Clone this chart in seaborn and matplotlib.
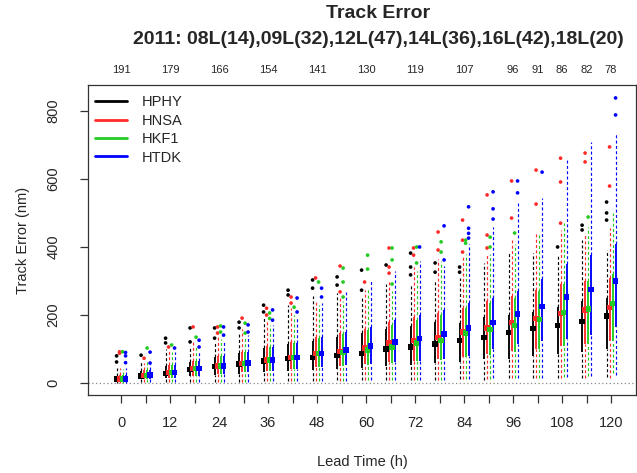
import matplotlib
matplotlib.use("Agg")
import matplotlib.pyplot as plt
from matplotlib.lines import Line2D
import pandas as pd
import seaborn as sns

# Forecast lead times (h) and the models compared
LEAD_TIMES = [0, 6, 12, 18, 24, 30, 36, 42, 48, 54, 60, 66, 72, 78, 84, 90, 96, 102, 108, 114, 120]
MODELS = ["HPHY", "HNSA", "HKF1", "HTDK"]
COLORS = ["#000000", "#ff2a2a", "#22cc22", "#0000ff"]

# Number of verifying cases shown along the top
CASE_LEADS = [0, 12, 24, 36, 48, 60, 72, 84, 96, 102, 108, 114, 120]
CASE_COUNTS = [191, 179, 166, 154, 141, 130, 119, 107, 96, 91, 86, 82, 78]

# Box statistics per model (nm): whisker low, Q1, median, Q3, whisker high, outliers
HPHY_LO = [1, 2, 2, 3, 4, 4, 5, 6, 7, 8, 8, 9, 10, 10, 11, 10, 15, 14, 15, 16, 18]
HPHY_Q1 = [6, 12, 16, 20, 25, 28, 32, 36, 38, 42, 45, 50, 52, 58, 62, 70, 72, 80, 85, 90, 100]
HPHY_MED = [12, 21, 28, 40, 48, 56, 65, 72, 76, 82, 88, 100, 106, 115, 124, 135, 148, 160, 170, 180, 197]
HPHY_Q3 = [22, 36, 50, 62, 76, 88, 102, 115, 125, 135, 148, 160, 168, 180, 178, 194, 200, 210, 225, 240, 250]
HPHY_HI = [45, 65, 100, 110, 125, 150, 190, 230, 255, 265, 255, 290, 290, 300, 310, 353, 382, 382, 375, 420, 391]
HPHY_OUT = [[62, 80], [82], [118, 132], [121, 162], [132, 162], [162, 179], [209, 229], [259, 273],
            [279, 303], [288, 312], [273, 332], [347], [318, 341, 382], [326, 353], [326, 341],
            [], [], [], [400], [450, 464], [479, 500, 532]]

HNSA_LO = [1, 2, 2, 3, 4, 4, 5, 6, 7, 7, 8, 9, 10, 10, 12, 12, 14, 15, 15, 16, 15]
HNSA_Q1 = [6, 12, 16, 22, 28, 32, 36, 40, 46, 50, 56, 62, 66, 72, 78, 86, 95, 100, 108, 115, 125]
HNSA_MED = [12, 23, 30, 42, 50, 58, 68, 76, 86, 94, 103, 118, 126, 135, 150, 162, 178, 190, 205, 215, 223]
HNSA_Q3 = [24, 38, 52, 66, 80, 92, 108, 120, 135, 148, 160, 180, 195, 205, 220, 240, 255, 275, 290, 300, 310]
HNSA_HI = [45, 60, 95, 120, 135, 160, 185, 220, 240, 250, 275, 300, 340, 365, 370, 380, 420, 440, 450, 440, 455]
HNSA_OUT = [[88, 92], [73], [106], [165], [147, 165], [191], [200, 220], [235, 253],
            [309], [268, 344], [297], [323, 341, 397], [376, 397], [391, 444], [385, 420, 479],
            [397, 435, 553], [485, 594], [526, 626], [470, 591, 661], [650, 676], [579, 694]]

HKF1_LO = [1, 2, 2, 3, 4, 4, 5, 6, 7, 7, 8, 9, 10, 10, 12, 12, 14, 16, 18, 20, 29]
HKF1_Q1 = [6, 12, 16, 22, 28, 32, 36, 40, 46, 50, 54, 58, 64, 68, 76, 84, 92, 100, 110, 115, 125]
HKF1_MED = [12, 23, 30, 42, 50, 58, 68, 76, 86, 91, 97, 106, 118, 126, 147, 157, 170, 188, 208, 218, 235]
HKF1_Q3 = [24, 38, 52, 66, 80, 92, 106, 118, 132, 145, 155, 170, 185, 200, 220, 235, 250, 270, 290, 300, 320]
HKF1_HI = [42, 62, 92, 110, 130, 135, 170, 200, 230, 240, 280, 270, 330, 360, 380, 380, 410, 440, 470, 460, 500]
HKF1_OUT = [[92], [103], [112], [135], [150, 168], [147, 176], [190, 206], [223],
            [297], [253, 297, 338], [335, 376], [291, 362, 397], [353, 400], [385, 415], [411, 420],
            [400, 429], [441], [], [], [488], []]

HTDK_LO = [1, 2, 2, 3, 4, 4, 5, 6, 7, 7, 8, 9, 10, 10, 12, 14, 15, 16, 18, 20, 24]
HTDK_Q1 = [6, 12, 16, 22, 28, 32, 36, 40, 46, 52, 56, 62, 66, 72, 80, 100, 115, 125, 130, 140, 165]
HTDK_MED = [12, 24, 30, 42, 50, 59, 68, 76, 88, 97, 109, 121, 132, 144, 162, 179, 203, 226, 253, 276, 300]
HTDK_Q3 = [24, 38, 52, 66, 80, 92, 106, 118, 135, 150, 165, 185, 200, 215, 235, 250, 270, 305, 350, 375, 410]
HTDK_HI = [45, 55, 90, 95, 125, 140, 170, 195, 235, 268, 300, 330, 360, 345, 410, 460, 530, 544, 655, 709, 735]
HTDK_OUT = [[60, 80, 90], [59, 91], [103], [106, 126], [141, 165], [150, 171], [185, 215], [209, 250],
            [253, 279], [], [], [], [400], [362, 462], [426, 440, 455, 518],
            [482, 512, 562], [559, 594], [620], [], [], [788, 838]]

STATS = {
    "HPHY": (HPHY_LO, HPHY_Q1, HPHY_MED, HPHY_Q3, HPHY_HI, HPHY_OUT),
    "HNSA": (HNSA_LO, HNSA_Q1, HNSA_MED, HNSA_Q3, HNSA_HI, HNSA_OUT),
    "HKF1": (HKF1_LO, HKF1_Q1, HKF1_MED, HKF1_Q3, HKF1_HI, HKF1_OUT),
    "HTDK": (HTDK_LO, HTDK_Q1, HTDK_MED, HTDK_Q3, HTDK_HI, HTDK_OUT),
}
OFFSETS = [-1.1, -0.37, 0.37, 1.1]

# Long-form tables for the box summaries and the outlying cases
box_rows, out_rows = [], []
for model, off in zip(MODELS, OFFSETS):
    lo, q1, med, q3, hi, outs = STATS[model]
    for i, t in enumerate(LEAD_TIMES):
        box_rows.append(dict(model=model, pos=t + off, lo=lo[i], q1=q1[i],
                             med=med[i], q3=q3[i], hi=hi[i]))
        for v in outs[i]:
            out_rows.append(dict(model=model, pos=t + off, value=v))
boxes = pd.DataFrame(box_rows)
outliers = pd.DataFrame(out_rows)
palette = dict(zip(MODELS, COLORS))

sns.set_theme(style="ticks")
plt.rcParams["font.family"] = ["Liberation Sans", "DejaVu Sans"]

fig = plt.figure(figsize=(6.37, 4.73), dpi=100)
ax = fig.add_axes([88 / 637, 78 / 473, 548 / 637, 310 / 473])

ax.axhline(0, color="#888888", lw=0.9, ls=(0, (1, 2)), zorder=1)

for model in MODELS:
    d = boxes[boxes["model"] == model]
    c = palette[model]
    ax.vlines(d["pos"], d["lo"], d["q1"], color=c, lw=0.85, linestyles=(0, (2.5, 2)), zorder=2)
    ax.vlines(d["pos"], d["q3"], d["hi"], color=c, lw=0.85, linestyles=(0, (2.5, 2)), zorder=2)
    ax.vlines(d["pos"], d["q1"], d["q3"], color=c, lw=1.35, zorder=3)

sns.scatterplot(data=outliers, x="pos", y="value", hue="model", palette=palette,
                hue_order=MODELS, s=7, marker="o", linewidth=0, legend=False, ax=ax, zorder=4)
sns.scatterplot(data=boxes, x="pos", y="med", hue="model", palette=palette,
                hue_order=MODELS, s=14, marker="s", linewidth=0, legend=False, ax=ax, zorder=5)

ax.set_xlim(-8.1, 126.1)
ax.set_ylim(-35, 876)

ax.set_xticks(LEAD_TIMES)
ax.set_xticklabels([str(t) if t % 12 == 0 else "" for t in LEAD_TIMES], fontsize=10.5)
ax.set_yticks([0, 200, 400, 600, 800])
ax.set_yticklabels(["0", "200", "400", "600", "800"], rotation=90, va="center", fontsize=10.5)
ax.tick_params(axis="both", length=6, width=0.9, color="#333333", direction="out")
ax.tick_params(axis="x", pad=9)
ax.tick_params(axis="y", pad=14)
for sp in ax.spines.values():
    sp.set_visible(True)
    sp.set_color("#333333")
    sp.set_linewidth(0.9)

ax.set_xlabel("Lead Time (h)", fontsize=10.5, labelpad=18)
ax.set_ylabel("Track Error (nm)", fontsize=10.5, labelpad=12)

top = ax.secondary_xaxis("top")
top.set_xticks(CASE_LEADS)
top.set_xticklabels([str(c) for c in CASE_COUNTS], fontsize=8)
top.tick_params(length=0, pad=7)
top.spines["top"].set_visible(False)

handles = [Line2D([0], [0], color=c, lw=2) for c in COLORS]
ax.legend(handles, MODELS, loc="upper left", frameon=False, fontsize=10.5,
          handlelength=2.2, handletextpad=1.0, labelspacing=0.3,
          borderaxespad=0.1, bbox_to_anchor=(0.0, 0.99))

fig.text(378 / 637, 1 - 14 / 473, "Track Error", ha="center", va="center",
         fontsize=14, fontweight="bold")
fig.text(378 / 637, 1 - 40 / 473, "2011: 08L(14),09L(32),12L(47),14L(36),16L(42),18L(20)",
         ha="center", va="center", fontsize=14, fontweight="bold")

fig.savefig("out.png", dpi=100)
